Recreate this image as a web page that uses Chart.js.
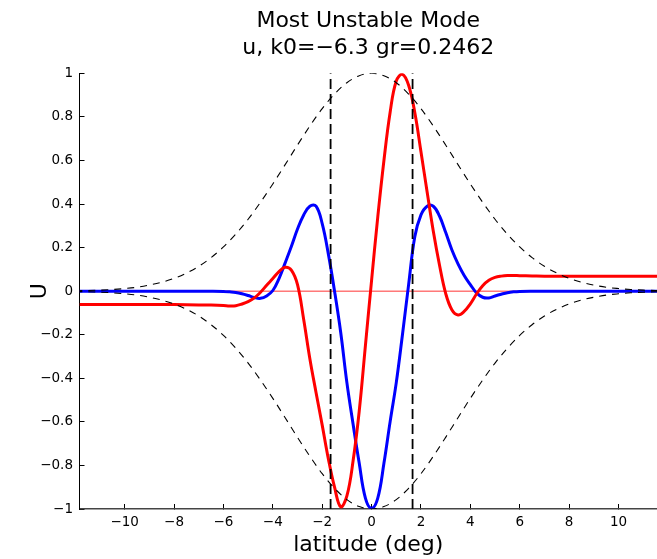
<!DOCTYPE html>
<html>
<head>
  <meta charset="UTF-8">
  <title>Most Unstable Mode</title>
  <script src="https://cdn.jsdelivr.net/npm/chart.js"></script>
  <style>
    html, body { margin: 0; padding: 0; background: #fff; overflow: hidden; }
  </style>
</head>
<body>
<canvas id="modeChart" width="657" height="559"></canvas>
<script>
  // axis limits and ticks
  const latRange = [-11.83, 11.56];
  const xTicks = [-10, -8, -6, -4, -2, 0, 2, 4, 6, 8, 10];
  const yTicks = [-1, -0.8, -0.6, -0.4, -0.2, 0, 0.2, 0.4, 0.6, 0.8, 1];

  // dashed envelope
  const envLat = [-12, -11.5, -11, -10.5, -10, -9.5, -9, -8.5, -8, -7.5, -7, -6.5, -6, -5.5, -5, -4.5, -4, -3.5, -3, -2.5, -2, -1.5, -1, -0.5,
                  0, 0.5, 1, 1.5, 2, 2.5, 3, 3.5, 4, 4.5, 5, 5.5, 6, 6.5, 7, 7.5, 8, 8.5, 9, 9.5, 10, 10.5, 11, 11.5, 12];
  const envUpper = [0.0017, 0.0028, 0.0047, 0.0075, 0.012, 0.018, 0.028, 0.041, 0.059, 0.083, 0.114, 0.154, 0.203, 0.262, 0.330, 0.408, 0.492, 0.581, 0.671, 0.758, 0.838, 0.905, 0.957, 0.989,
                    1.0, 0.989, 0.957, 0.905, 0.838, 0.758, 0.671, 0.581, 0.492, 0.408, 0.330, 0.262, 0.203, 0.154, 0.114, 0.083, 0.059, 0.041, 0.028, 0.018, 0.012, 0.0075, 0.0047, 0.0028, 0.0017];
  const envLower = [-0.0017, -0.0028, -0.0047, -0.0075, -0.012, -0.018, -0.028, -0.041, -0.059, -0.083, -0.114, -0.154, -0.203, -0.262, -0.330, -0.408, -0.492, -0.581, -0.671, -0.758, -0.838, -0.905, -0.957, -0.989,
                    -1.0, -0.989, -0.957, -0.905, -0.838, -0.758, -0.671, -0.581, -0.492, -0.408, -0.330, -0.262, -0.203, -0.154, -0.114, -0.083, -0.059, -0.041, -0.028, -0.018, -0.012, -0.0075, -0.0047, -0.0028, -0.0017];

  // critical latitudes (vertical dashed)
  const critLat = [-1.66, 1.66];
  const critU = [-1, 1];

  // zero reference
  const zeroU = [0, 0];

  // latitude samples shared by the two mode curves
  const modeLat = [-11.83, -9, -7, -6.5, -6,
    -5.75, -5.5, -5.25, -5, -4.75, -4.5, -4.25, -4, -3.75, -3.5, -3.25, -3, -2.75, -2.5, -2.25, -2, -1.75, -1.5, -1.25, -1, -0.75, -0.5, -0.25,
    0, 0.25, 0.5, 0.75, 1, 1.25, 1.5, 1.75, 2, 2.25, 2.5, 2.75, 3, 3.25, 3.5, 3.75, 4, 4.25, 4.5, 4.75, 5, 5.25, 5.5, 5.75, 6,
    6.5, 7, 9, 11.83];

  // red curve
  const redU = [-0.061, -0.061, -0.063, -0.064, -0.066,
    -0.068, -0.067, -0.059, -0.048, -0.031, -0.005, 0.027, 0.058, 0.09, 0.11, 0.097, 0.03, -0.13, -0.31, -0.465, -0.615, -0.77, -0.9, -0.99, -0.94, -0.78, -0.55, -0.25,
    0.05, 0.34, 0.6, 0.82, 0.965, 0.995, 0.945, 0.82, 0.64, 0.455, 0.275, 0.12, -0.01, -0.085, -0.109, -0.093, -0.058, -0.013, 0.025, 0.05, 0.063, 0.069, 0.072, 0.072, 0.071,
    0.07, 0.069, 0.068, 0.068];

  // blue curve
  const blueU = [0, 0, 0, 0, -0.001,
    -0.003, -0.006, -0.012, -0.02, -0.029, -0.033, -0.022, 0.003, 0.058, 0.13, 0.205, 0.285, 0.35, 0.39, 0.39, 0.31, 0.17, 0, -0.19, -0.42, -0.61, -0.79, -0.95,
    -0.997, -0.95, -0.79, -0.6, -0.42, -0.2, 0.03, 0.25, 0.35, 0.39, 0.39, 0.345, 0.27, 0.19, 0.125, 0.072, 0.03, -0.008, -0.028, -0.031, -0.022, -0.014, -0.007, -0.003, -0.001,
    0, 0, 0, 0];

  const FONT = "'DejaVu Sans', sans-serif";

  function pts(xs, ys) {
    return xs.map((x, i) => ({ x: x, y: ys[i] }));
  }

  function fmt(v) {
    return String(Math.round(v * 10) / 10).replace('-', '\u2212');
  }

  const tickGrid = { drawOnChartArea: false, drawTicks: true, tickLength: -5, color: '#000' };

  new Chart(document.getElementById('modeChart').getContext('2d'), {
    type: 'line',
    data: {
      datasets: [
        { data: pts([critLat[0], critLat[0]], critU), borderColor: '#000', borderWidth: 1.8, borderDash: [10, 5], order: 1 },
        { data: pts([critLat[1], critLat[1]], critU), borderColor: '#000', borderWidth: 1.8, borderDash: [10, 5], order: 1 },
        { data: pts(envLat, envUpper), borderColor: '#000', borderWidth: 1.1, borderDash: [7, 6], cubicInterpolationMode: 'monotone', order: 2 },
        { data: pts(envLat, envLower), borderColor: '#000', borderWidth: 1.1, borderDash: [7, 6], cubicInterpolationMode: 'monotone', order: 2 },
        { data: pts(modeLat, redU), borderColor: '#ff0000', borderWidth: 3, tension: 0.4, order: 3 },
        { data: pts(modeLat, blueU), borderColor: '#0000ff', borderWidth: 3, tension: 0.4, order: 4 },
        { data: pts(latRange, zeroU), borderColor: 'rgba(255,0,0,0.8)', borderWidth: 1, order: 5 }
      ]
    },
    options: {
      responsive: false,
      animation: false,
      layout: { padding: 0 },
      elements: { point: { radius: 0 } },
      plugins: {
        legend: { display: false },
        tooltip: { enabled: false },
        title: {
          display: true,
          fullSize: false,
          text: ['Most Unstable Mode', 'u, k0=\u22126.3 gr=0.2462'],
          color: '#000',
          font: { family: FONT, size: 22, weight: 'normal', lineHeight: 1.23 },
          padding: { top: 7.5, bottom: 11.7 }
        }
      },
      scales: {
        x: {
          type: 'linear',
          min: latRange[0],
          max: latRange[1],
          afterBuildTicks: s => { s.ticks = xTicks.map(v => ({ value: v })); },
          afterFit: s => { s.height = 50; },
          grid: tickGrid,
          border: { color: '#444', width: 1.5 },
          ticks: { color: '#000', font: { family: FONT, size: 13.5 }, padding: 10, maxRotation: 0, callback: v => fmt(v) },
          title: { display: true, text: 'latitude (deg)', color: '#000', font: { family: FONT, size: 22 }, padding: { bottom: 1 } }
        },
        y: {
          min: -1,
          max: 1,
          afterBuildTicks: s => { s.ticks = yTicks.map(v => ({ value: v })); },
          afterFit: s => { s.width = 79.5; },
          grid: tickGrid,
          border: { color: '#000', width: 1 },
          ticks: { color: '#000', font: { family: FONT, size: 13.5 }, padding: 11.5, callback: v => fmt(v) },
          title: { display: true, text: 'U', color: '#000', font: { family: FONT, size: 22 }, padding: { top: 27 } }
        }
      }
    }
  });
</script>
</body>
</html>
